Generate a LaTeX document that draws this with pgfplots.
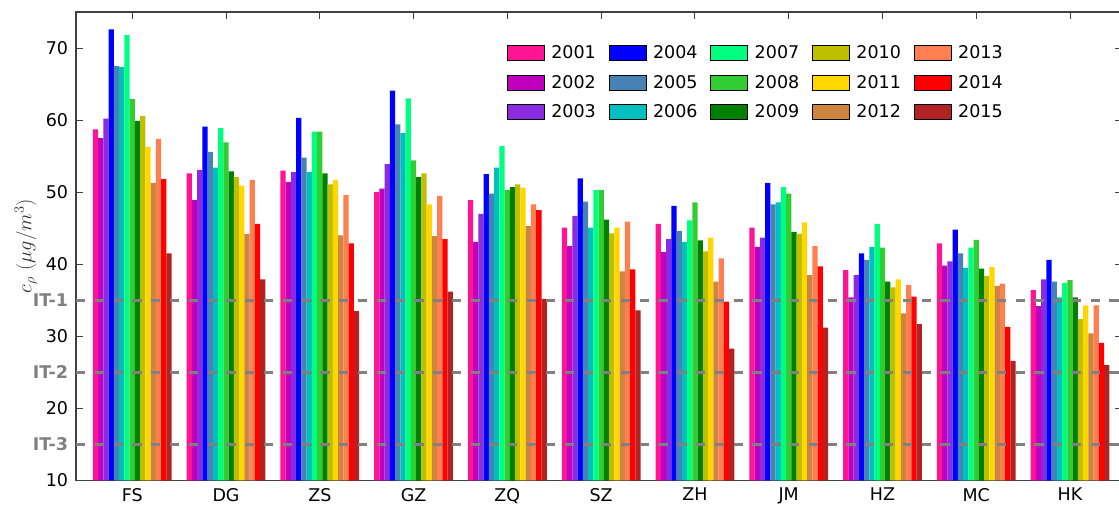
\RequirePackage{fix-cm}
\documentclass[border=0pt]{standalone}
\usepackage{fontspec}
\setmainfont{DejaVu Sans}
\usepackage{pgfplots}
\usepackage{pgfplotstable}
\pgfplotsset{compat=1.18}
\definecolor{c01}{HTML}{FF1493}
\definecolor{c02}{HTML}{BF00BF}
\definecolor{c03}{HTML}{8A2BE2}
\definecolor{c04}{HTML}{0000FF}
\definecolor{c05}{HTML}{4682B4}
\definecolor{c06}{HTML}{00BFBF}
\definecolor{c07}{HTML}{00FF7F}
\definecolor{c08}{HTML}{32CD32}
\definecolor{c09}{HTML}{008000}
\definecolor{c10}{HTML}{BFBF00}
\definecolor{c11}{HTML}{FFD700}
\definecolor{c12}{HTML}{CD853F}
\definecolor{c13}{HTML}{FF7F50}
\definecolor{c14}{HTML}{FF0000}
\definecolor{c15}{HTML}{B22222}
\pgfplotstableread{
x a01 a02 a03 a04 a05 a06 a07 a08 a09 a10 a11 a12 a13 a14 a15
0 58.7 57.5 60.2 72.6 67.5 67.4 71.8 62.9 59.9 60.6 56.3 51.3 57.4 51.8 41.5
1 52.6 48.9 53.1 59.1 55.6 53.4 58.9 56.9 52.9 52.1 50.9 44.2 51.7 45.6 37.9
2 53.0 51.4 52.8 60.3 54.8 52.8 58.4 58.4 52.6 51.1 51.7 44.0 49.6 42.9 33.5
3 50.0 50.5 53.9 64.1 59.4 58.2 63.0 54.4 52.1 52.6 48.3 43.9 49.5 43.5 36.2
4 48.9 43.1 47.0 52.5 49.8 53.4 56.4 50.3 50.7 51.1 50.6 45.3 48.3 47.5 35.2
5 45.1 42.5 46.7 51.9 48.7 45.1 50.3 50.3 46.2 44.3 45.1 39.0 45.9 39.3 33.6
6 45.6 41.7 43.5 48.1 44.6 43.1 46.1 48.6 43.3 41.8 43.7 37.6 40.8 34.8 28.3
7 45.1 42.4 43.7 51.3 48.3 48.6 50.7 49.8 44.5 44.2 45.8 38.5 42.5 39.7 31.2
8 39.2 35.4 38.5 41.5 40.6 42.4 45.6 42.3 37.6 36.8 37.9 33.2 37.1 35.5 31.7
9 42.9 39.8 40.4 44.8 41.5 39.5 42.3 43.4 39.4 38.4 39.6 37.0 37.3 31.3 26.6
10 36.4 34.2 37.9 40.6 37.6 35.4 37.4 37.8 35.4 32.4 34.3 30.4 34.3 29.1 26.0
}\data
\newcommand{\tf}{\fontsize{17.5}{21}\selectfont}
\begin{document}
\begin{tikzpicture}
\begin{axis}[
  name=ax,
  scale only axis,
  width=1045.6pt, height=468.5pt,
  xmin=-0.6, xmax=10.55,
  ymin=10, ymax=75,
  xtick={0,...,10},
  xticklabels={FS,DG,ZS,GZ,ZQ,SZ,ZH,JM,HZ,MC,HK},
  ytick={10,20,30,40,50,60,70},
  extra y ticks={15,25,35},
  extra y tick labels={IT-3,IT-2,IT-1},
  extra y tick style={yticklabel style={text=gray, font=\bfseries\tf}},
  /pgf/number format/assume math mode=true,
  tick align=inside,
  major tick length=7pt,
  tick style={black!75, line width=1pt},
  axis line style={black!75, line width=1.5pt},
  ticklabel style={font=\tf},
  yticklabel style={inner sep=0pt, xshift=-7.7pt},
  xticklabel style={inner sep=0pt, yshift=-7.5pt},
  ylabel={$c_\rho\ (\mu g/m^3)$},
  ylabel style={at={(axis description cs:0,0.5)}, anchor=center, yshift=50pt, font=\fontsize{20.5}{24}\selectfont, text=black!80},
  legend image code/.code={\fill[#1] (0pt,-7.5pt) rectangle (37pt,7.5pt);},
  legend columns=5,
  legend cell align=left,
  legend style={draw=none, fill=none, at={(rel axis cs:0.4119,0.930)}, anchor=north west,
    inner sep=0pt, font=\tf, row sep=14.3pt,
    nodes={inner sep=0pt},
    /tikz/every odd column/.append style={column sep=7pt},
    /tikz/every even column/.append style={column sep=12.8pt}},
]
\addplot[ybar, bar width=0.056, bar shift=-0.392, fill=c01, draw=none, forget plot] table[x=x,y=a01]{\data};
\addplot[ybar, bar width=0.056, bar shift=-0.336, fill=c02, draw=none, forget plot] table[x=x,y=a02]{\data};
\addplot[ybar, bar width=0.056, bar shift=-0.280, fill=c03, draw=none, forget plot] table[x=x,y=a03]{\data};
\addplot[ybar, bar width=0.056, bar shift=-0.224, fill=c04, draw=none, forget plot] table[x=x,y=a04]{\data};
\addplot[ybar, bar width=0.056, bar shift=-0.168, fill=c05, draw=none, forget plot] table[x=x,y=a05]{\data};
\addplot[ybar, bar width=0.056, bar shift=-0.112, fill=c06, draw=none, forget plot] table[x=x,y=a06]{\data};
\addplot[ybar, bar width=0.056, bar shift=-0.056, fill=c07, draw=none, forget plot] table[x=x,y=a07]{\data};
\addplot[ybar, bar width=0.056, bar shift=0, fill=c08, draw=none, forget plot] table[x=x,y=a08]{\data};
\addplot[ybar, bar width=0.056, bar shift=0.056, fill=c09, draw=none, forget plot] table[x=x,y=a09]{\data};
\addplot[ybar, bar width=0.056, bar shift=0.112, fill=c10, draw=none, forget plot] table[x=x,y=a10]{\data};
\addplot[ybar, bar width=0.056, bar shift=0.168, fill=c11, draw=none, forget plot] table[x=x,y=a11]{\data};
\addplot[ybar, bar width=0.056, bar shift=0.224, fill=c12, draw=none, forget plot] table[x=x,y=a12]{\data};
\addplot[ybar, bar width=0.056, bar shift=0.280, fill=c13, draw=none, forget plot] table[x=x,y=a13]{\data};
\addplot[ybar, bar width=0.056, bar shift=0.336, fill=c14, draw=none, forget plot] table[x=x,y=a14]{\data};
\addplot[ybar, bar width=0.056, bar shift=0.392, fill=c15, draw=none, forget plot] table[x=x,y=a15]{\data};
\addplot[gray, line width=3pt, dash pattern=on 9.3pt off 9.49pt, forget plot] coordinates {(-0.6,35) (10.55,35)};
\addplot[gray, line width=3pt, dash pattern=on 9.3pt off 9.49pt, forget plot] coordinates {(-0.6,25) (10.55,25)};
\addplot[gray, line width=3pt, dash pattern=on 9.3pt off 9.49pt, forget plot] coordinates {(-0.6,15) (10.55,15)};
\addlegendimage{fill=c01}\addlegendentry{2001}
\addlegendimage{fill=c04}\addlegendentry{2004}
\addlegendimage{fill=c07}\addlegendentry{2007}
\addlegendimage{fill=c10}\addlegendentry{2010}
\addlegendimage{fill=c13}\addlegendentry{2013}
\addlegendimage{fill=c02}\addlegendentry{2002}
\addlegendimage{fill=c05}\addlegendentry{2005}
\addlegendimage{fill=c08}\addlegendentry{2008}
\addlegendimage{fill=c11}\addlegendentry{2011}
\addlegendimage{fill=c14}\addlegendentry{2014}
\addlegendimage{fill=c03}\addlegendentry{2003}
\addlegendimage{fill=c06}\addlegendentry{2006}
\addlegendimage{fill=c09}\addlegendentry{2009}
\addlegendimage{fill=c12}\addlegendentry{2012}
\addlegendimage{fill=c15}\addlegendentry{2015}
\end{axis}
\pgfresetboundingbox
\path ([xshift=-76pt,yshift=-26.5pt]ax.south west) rectangle ([xshift=1043pt,yshift=12pt]ax.north west);
\end{tikzpicture}
\end{document}
